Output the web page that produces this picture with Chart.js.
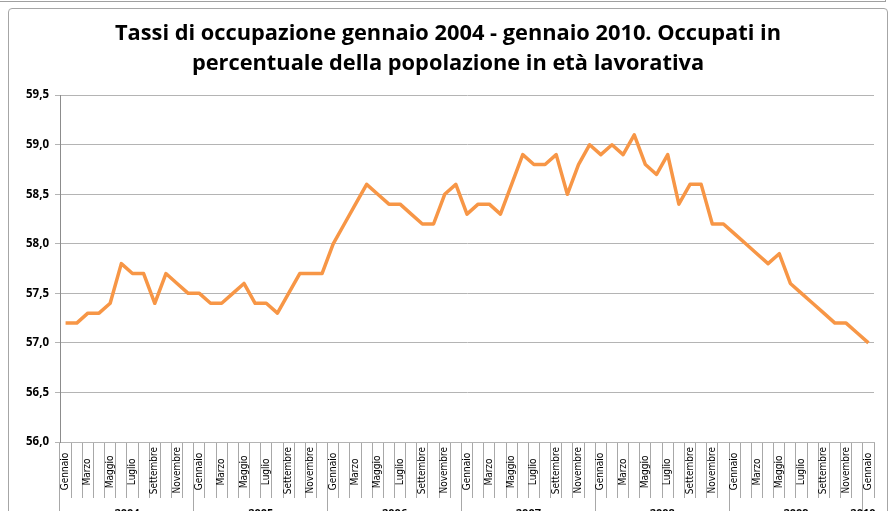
<!DOCTYPE html>
<html>
<head>
<meta charset="utf-8">
<script src="https://cdn.jsdelivr.net/npm/chart.js@4"></script>
<style>
  html, body { margin: 0; padding: 0; background: #fff; overflow: hidden; }
  #wrap { position: relative; width: 893px; height: 511px; overflow: hidden; }
  #prev { position: absolute; left: 0; top: -4px; width: 885px; height: 5px; border-right: 1px solid #a0a0a0; border-bottom: 1px solid #a0a0a0; }
  #frame { position: absolute; left: 8px; top: 8px; width: 878px; height: 540px; border: 1px solid #a6a6a6; border-radius: 4px; }
  canvas { position: absolute; left: 0; top: 0; }
</style>
</head>
<body>
<div id="wrap">
  <div id="prev"></div>
  <div id="frame"></div>
  <canvas id="c" width="893" height="540"></canvas>
</div>
<script>
// Mesi mostrati sull'asse (uno sì e uno no)
const mesi = ['Gennaio', 'Febbraio', 'Marzo', 'Aprile', 'Maggio', 'Giugno',
              'Luglio', 'Agosto', 'Settembre', 'Ottobre', 'Novembre', 'Dicembre'];
const anni = ['2004', '2005', '2006', '2007', '2008', '2009', '2010'];

// Occupati in % della popolazione in età lavorativa, gen 2004 - gen 2010
const tassi = [
  57.2, 57.2, 57.3, 57.3, 57.4, 57.8, 57.7, 57.7, 57.4, 57.7, 57.6, 57.5, // 2004
  57.5, 57.4, 57.4, 57.5, 57.6, 57.4, 57.4, 57.3, 57.5, 57.7, 57.7, 57.7, // 2005
  58.0, 58.2, 58.4, 58.6, 58.5, 58.4, 58.4, 58.3, 58.2, 58.2, 58.5, 58.6, // 2006
  58.3, 58.4, 58.4, 58.3, 58.6, 58.9, 58.8, 58.8, 58.9, 58.5, 58.8, 59.0, // 2007
  58.9, 59.0, 58.9, 59.1, 58.8, 58.7, 58.9, 58.4, 58.6, 58.6, 58.2, 58.2, // 2008
  58.1, 58.0, 57.9, 57.8, 57.9, 57.6, 57.5, 57.4, 57.3, 57.2, 57.2, 57.1, // 2009
  57.0                                                                    // 2010
];

const yMin = 56, yMax = 59.5, yStep = 0.5;

const labels = tassi.map((_, i) => mesi[i % 12]);
// etichette anno: al centro di ogni anno (indice 6), 2010 sul suo unico mese
const labelsAnno = tassi.map((_, i) => {
  const a = Math.floor(i / 12);
  if (a === 6) return anni[a];
  return i % 12 === 6 ? anni[a] : '';
});

const gridColor = '#b4b4b4';
const axisColor = '#8c8c8c';
const monthFont = { family: "'Liberation Sans Narrow', 'DejaVu Sans Condensed', sans-serif", size: 10 };

// le etichette ruotate vengono centrate nella fascia aggiungendo spazi in coda
const meas = document.createElement('canvas').getContext('2d');
meas.font = `${monthFont.size}px ${monthFont.family}`;
const maxW = Math.max(...mesi.map(m => meas.measureText(m).width));
const spaceW = meas.measureText(' ').width;
const centrata = m => m + ' '.repeat(Math.max(0, Math.round((maxW - meas.measureText(m).width) / 2 / spaceW)));

new Chart(document.getElementById('c'), {
  type: 'line',
  data: {
    labels,
    datasets: [{
      data: tassi,
      borderColor: '#f79646',
      borderWidth: 3.5,
      borderJoinStyle: 'round',
      pointRadius: 0,
      tension: 0,
      fill: false,
      xAxisID: 'x',
    }],
  },
  options: {
    responsive: false,
    animation: false,
    layout: { padding: { left: 22, right: 19, top: 0, bottom: 8 } },
    plugins: {
      legend: { display: false },
      tooltip: { enabled: false },
      title: {
        display: true,
        text: ['Tassi di occupazione gennaio 2004 - gennaio 2010. Occupati in',
               'percentuale della popolazione in età lavorativa'],
        color: '#000',
        font: { family: "'Open Sans', sans-serif", size: 21.8, weight: 'bold', lineHeight: 1.38 },
        padding: { top: 19, bottom: 16 },
      },
    },
    scales: {
      x: {
        type: 'category',
        offset: true,
        position: 'bottom',
        afterFit: s => { s.height = 56; },
        border: { color: gridColor },
        grid: { offset: true, drawOnChartArea: false, tickLength: 56, color: '#a8a8a8' },
        ticks: {
          autoSkip: false,
          minRotation: 90,
          maxRotation: 90,
          padding: -51,
          color: '#000',
          font: monthFont,
          callback: (v, i) => (i % 2 === 0 ? centrata(labels[i]) : ''),
        },
      },
      x2: {
        type: 'category',
        labels: labelsAnno,
        offset: true,
        position: 'bottom',
        afterFit: s => { s.height = 34; },
        border: { display: false },
        grid: {
          offset: true,
          drawOnChartArea: false,
          tickLength: 24,
          color: ctx => (ctx.index % 12 === 0 ? '#a8a8a8' : 'rgba(0,0,0,0)'),
        },
        ticks: {
          autoSkip: false,
          maxRotation: 0,
          padding: -15,
          labelOffset: -5.5,
          color: '#000',
          font: { family: "'Open Sans', sans-serif", size: 11, weight: 'bold' },
        },
      },
      y: {
        min: yMin,
        max: yMax,
        afterFit: s => { s.width = 38; },
        border: { color: axisColor },
        grid: { color: gridColor, tickLength: 5 },
        ticks: {
          stepSize: yStep,
          padding: 6,
          color: '#000',
          font: { family: "'Open Sans', sans-serif", size: 11.5, weight: 'bold' },
          callback: v => v.toFixed(1).replace('.', ','),
        },
      },
    },
  },
});
</script>
</body>
</html>
